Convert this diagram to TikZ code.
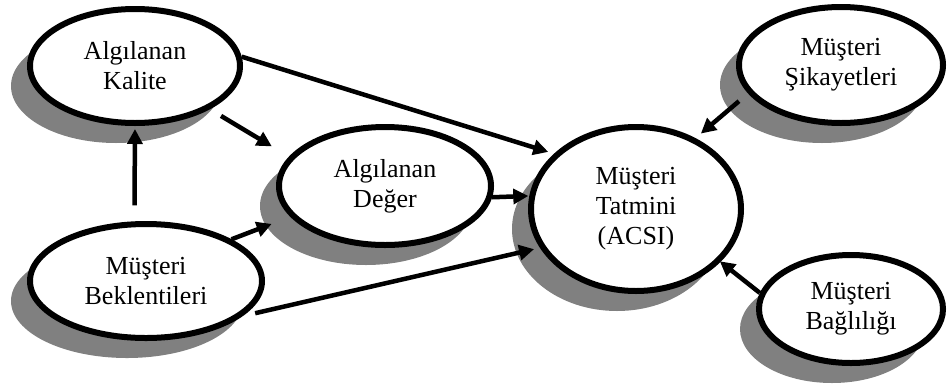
\documentclass[tikz,border=0pt]{standalone}
\usepackage{fontspec}
\setmainfont{Liberation Serif}
\usetikzlibrary{shapes.geometric,arrows.meta,shadows}
\definecolor{shadowgray}{RGB}{128,128,128}
\tikzset{
  oval/.style={ellipse, draw=black, line width=6pt, fill=white, inner sep=0pt,
    align=center, font=\fontsize{26}{30}\selectfont,
    drop shadow={shadow xshift=-19pt, shadow yshift=-20pt, fill=shadowgray, opacity=1}},
  conn/.style={line width=4.5pt, -{Triangle[length=15pt,width=15pt]}}
}
\begin{document}
\begin{tikzpicture}[x=1pt,y=-1pt]
\useasboundingbox (0,0) rectangle (949,389);
\node[oval, minimum width=210pt, minimum height=114pt] (K) at (135,66) {Algılanan\\Kalite};
\node[oval, minimum width=232pt, minimum height=114pt] (B) at (146,281) {Müşteri\\Beklentileri};
\node[oval, minimum width=212pt, minimum height=118pt] (D) at (385,186) {Algılanan\\Değer};
\node[oval, minimum width=210pt, minimum height=164pt] (T) at (636,209) {Müşteri\\Tatmini\\(ACSI)};
\node[oval, minimum width=204pt, minimum height=116pt] (S) at (841,65) {Müşteri\\Şikayetleri};
\node[oval, minimum width=184pt, minimum height=108pt] (G) at (851,309) {Müşteri\\Bağlılığı};

\draw[conn, shorten >=6pt] (K.5) -- (T.146.5);
\draw[conn, shorten <=13pt, shorten >=20pt] (K.-30.6) -- (D.163);
\draw[conn, shorten <=16pt, shorten >=3pt] (B.101) -- (K.south);
\draw[conn, shorten >=20pt] (B.26.3) -- (D.198.6);
\draw[conn, shorten <=13pt, shorten >=6pt] (B.-20.6) -- (T.202.5);
\draw[conn, shorten >=1pt] (D.-6) -- (T.173.5);
\draw[conn, shorten <=12pt, shorten >=7pt] (S.197.6) -- (T.50);
\draw[conn, shorten >=-1pt] (G.170) -- (T.-32);
\end{tikzpicture}
\end{document}
